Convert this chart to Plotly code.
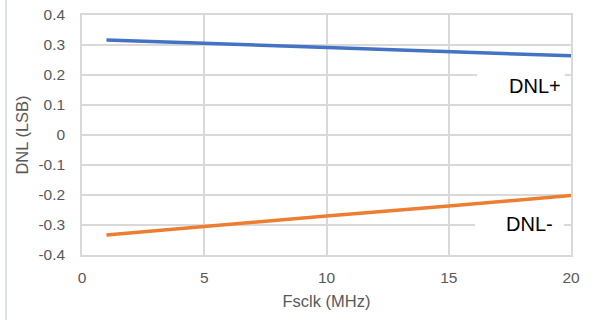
import plotly.graph_objects as go

fsclk = [1, 5, 10, 15, 20]
dnl_pos = [0.317, 0.306, 0.293, 0.278, 0.264]
dnl_neg = [-0.333, -0.304, -0.270, -0.237, -0.202]
x_ticks = [0, 5, 10, 15, 20]
y_ticks = [-0.4, -0.3, -0.2, -0.1, 0, 0.1, 0.2, 0.3, 0.4]
y_tick_text = ["-0.4", "-0.3", "-0.2", "-0.1", "0", "0.1", "0.2", "0.3", "0.4"]

W, H = 594, 320
L, R, T, B = 82, 23, 15, 65
pw = W - L - R
ph = H - T - B

fig = go.Figure()
fig.add_trace(go.Scatter(x=fsclk, y=dnl_pos, mode="lines", name="DNL+",
                         line=dict(color="#4472C4", width=3.5)))
fig.add_trace(go.Scatter(x=fsclk, y=dnl_neg, mode="lines", name="DNL-",
                         line=dict(color="#ED7D31", width=3.5)))

font = "Liberation Sans, Arial, sans-serif"
fig.update_layout(
    width=W, height=H,
    margin=dict(l=L, r=R, t=T, b=B),
    paper_bgcolor="white", plot_bgcolor="white",
    showlegend=False,
    font=dict(family=font, size=15.5, color="#595959"),
    xaxis=dict(range=[0, 20], tickvals=x_ticks, showgrid=True, gridcolor="#D9D9D9",
               gridwidth=1.5, zeroline=False, showline=True, linecolor="#D9D9D9",
               linewidth=1.5, mirror=True, ticks="", ticklabelstandoff=8,
               automargin=False,
               title=dict(text="Fsclk (MHz)", standoff=10,
                          font=dict(family=font, size=16.5, color="#595959"))),
    yaxis=dict(range=[-0.4, 0.4], tickvals=y_ticks, ticktext=y_tick_text,
               showgrid=True, gridcolor="#D9D9D9", gridwidth=1.5, zeroline=False,
               showline=True, linecolor="#D9D9D9", linewidth=1.5, mirror=True,
               ticks="", ticklabelstandoff=12, automargin=False,
               title=dict(text="DNL (LSB)", standoff=6,
                          font=dict(family=font, size=16.5, color="#595959"))),
)

# white label boxes that hide the gridlines behind the series labels
fig.add_shape(type="rect", xref="x", yref="y", x0=16.16, x1=19.75, y0=0.117, y1=0.23,
              fillcolor="white", line=dict(width=0), layer="between")
fig.add_shape(type="rect", xref="x", yref="y", x0=16.07, x1=19.71, y0=-0.35, y1=-0.257,
              fillcolor="white", line=dict(width=0), layer="between")

fig.add_annotation(x=17.38, y=0.162, xref="x", yref="y", xanchor="left",
                   text="DNL+", showarrow=False,
                   font=dict(family=font, size=20, color="#000000"))
fig.add_annotation(x=17.26, y=-0.297, xref="x", yref="y", xanchor="left",
                   text="DNL-", showarrow=False,
                   font=dict(family=font, size=20, color="#000000"))

# left frame line of the chart area
fig.add_shape(type="line", xref="paper", yref="paper",
              x0=(6 - L) / pw, x1=(6 - L) / pw, y0=-B / ph, y1=(ph + T) / ph,
              line=dict(color="#D0D7DE", width=1.5))

fig.write_html("out.html", config={"displayModeBar": False},
               post_script="document.body.style.margin='0';document.body.style.overflow='hidden';")
